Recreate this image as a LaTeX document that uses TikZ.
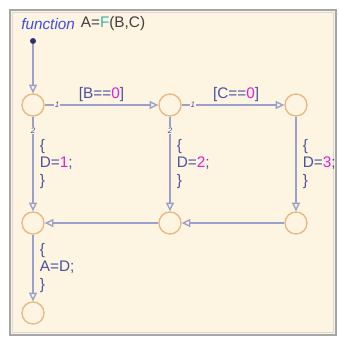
\documentclass[tikz,border=0pt]{standalone}
\usepackage{fontspec}
\setmainfont{Liberation Sans}
\usetikzlibrary{arrows.meta, positioning}
\definecolor{chartbg}{HTML}{FDF4E1}
\definecolor{juncline}{HTML}{EAB681}
\definecolor{wire}{HTML}{9A9FCB}
\definecolor{inkblue}{HTML}{4A529E}
\definecolor{numpink}{HTML}{E41CD4}
\definecolor{kwblue}{HTML}{3F4FE0}
\definecolor{fnteal}{HTML}{3AB3AE}
\definecolor{dotnavy}{HTML}{2E3370}

\begin{document}
\begin{tikzpicture}[x=0.75pt, y=-0.75pt, font=\fontsize{11.5}{13}\selectfont,
  jn/.style={circle, draw=juncline, line width=1pt, fill=chartbg,
             minimum size=16.5pt, inner sep=0pt},
  tr/.style={draw=wire, line width=1.3pt,
             -{Triangle[open, fill=chartbg, length=6.5pt, width=6pt, line width=1pt]}},
  act/.style={text=inkblue, align=left, anchor=west, inner sep=1pt, xshift=3.5pt},
  grd/.style={text=inkblue, anchor=south, inner sep=1.5pt},
  ord/.style={text=inkblue, font=\fontsize{6}{6}\selectfont\itshape,
              fill=chartbg, inner sep=0.6pt}]
  \useasboundingbox (0,0) rectangle (339,337);
  % chart frame
  \draw[gray!70, line width=1pt, fill=chartbg] (10,10) rectangle (336,335);
  \draw[gray!30, line width=0.6pt] (12.5,12.5) rectangle (333.5,332.5);
  \node[anchor=west, text=kwblue, font=\fontsize{11.5}{13}\selectfont\itshape,
        inner sep=0pt] (kw) at (21,24) {function};
  \node[anchor=west, text=black!75, inner sep=0pt] (sig) at ([xshift=4pt]kw.east)
        {A=\textcolor{fnteal}{F}(B,C)};
  % junctions
  \foreach \n/\x/\y in {t1/33/105, t2/170/105, t3/296/105,
                        m1/33/223, m2/170/223, m3/296/223, e/33/313}{%
    \node[jn] (\n) at (\x,\y) {};}
  \node[circle, fill=dotnavy, inner sep=0pt, minimum size=4.5pt] (dot) at (33,41) {};
  % transitions
  \draw[tr] (dot) -- (t1);
  \draw[tr] (t1) -- node[ord, pos=0.11] {1}
    node[grd] {[B==\textcolor{numpink}{0}]} (t2);
  \draw[tr] (t2) -- node[ord, pos=0.11] {1}
    node[grd, pos=0.53] {[C==\textcolor{numpink}{0}]} (t3);
  \foreach \a/\b/\v in {t1/m1/1, t2/m2/2}{%
    \draw[tr] (\a) -- node[ord, pos=0.15] {2}
      node[act] {\{\\D=\textcolor{numpink}{\v};\\\}} (\b);}
  \draw[tr] (t3) -- node[act] {\{\\D=\textcolor{numpink}{3};\\\}} (m3);
  \draw[tr] (m3) -- (m2);
  \draw[tr] (m2) -- (m1);
  \draw[tr] (m1) -- node[act] {\{\\A=D;\\\}} (e);
\end{tikzpicture}
\end{document}
